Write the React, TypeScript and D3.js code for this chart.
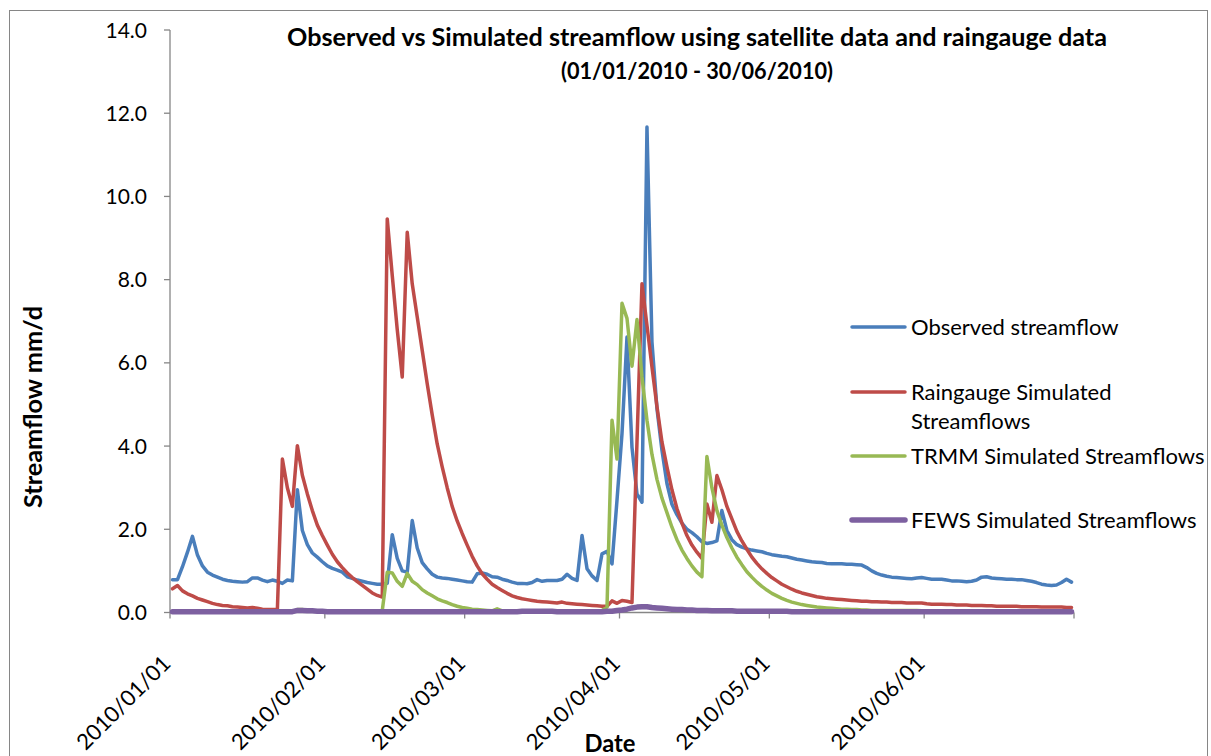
import React from "react";
import * as d3 from "d3";

const startDate = new Date(2010, 0, 1);
const endDate = new Date(2010, 6, 1);

const observed = [
  0.79, 0.79, 1.10, 1.45, 1.83, 1.38, 1.12, 0.97, 0.90, 0.85,
  0.80, 0.77, 0.75, 0.74, 0.73, 0.74, 0.83, 0.83, 0.78, 0.74,
  0.78, 0.75, 0.70, 0.78, 0.76, 2.95, 1.97, 1.63, 1.43, 1.33,
  1.22, 1.12, 1.06, 1.02, 0.97, 0.86, 0.82, 0.78, 0.75, 0.72,
  0.70, 0.68, 0.68, 0.70, 1.87, 1.30, 1.00, 0.97, 2.21, 1.55,
  1.20, 1.05, 0.92, 0.85, 0.83, 0.82, 0.80, 0.78, 0.76, 0.74,
  0.73, 0.93, 0.95, 0.92, 0.86, 0.85, 0.80, 0.77, 0.73, 0.70,
  0.70, 0.69, 0.72, 0.79, 0.75, 0.77, 0.77, 0.77, 0.80, 0.92,
  0.82, 0.77, 1.85, 1.05, 0.88, 0.77, 1.41, 1.47, 1.17, 2.70,
  4.30, 6.62, 3.97, 2.85, 2.65, 11.67, 6.50, 4.90, 3.90, 3.10,
  2.60, 2.35, 2.15, 2.00, 1.92, 1.82, 1.70, 1.66, 1.68, 1.72,
  2.45, 1.97, 1.75, 1.63, 1.57, 1.53, 1.50, 1.48, 1.46, 1.42,
  1.39, 1.37, 1.35, 1.34, 1.31, 1.28, 1.26, 1.24, 1.22, 1.21,
  1.20, 1.18, 1.17, 1.17, 1.17, 1.16, 1.16, 1.15, 1.14, 1.08,
  1.00, 0.94, 0.90, 0.87, 0.85, 0.84, 0.83, 0.82, 0.81, 0.83,
  0.84, 0.82, 0.80, 0.80, 0.80, 0.78, 0.76, 0.76, 0.75, 0.74,
  0.75, 0.78, 0.85, 0.86, 0.83, 0.82, 0.81, 0.80, 0.80, 0.79,
  0.79, 0.77, 0.75, 0.72, 0.68, 0.66, 0.65, 0.66, 0.72, 0.80,
  0.73,
];

const raingauge = [
  0.57, 0.65, 0.52, 0.45, 0.40, 0.34, 0.30, 0.26, 0.22, 0.19,
  0.17, 0.16, 0.14, 0.13, 0.12, 0.11, 0.12, 0.10, 0.08, 0.07,
  0.07, 0.07, 3.69, 3.00, 2.55, 4.01, 3.30, 2.85, 2.45, 2.10,
  1.85, 1.62, 1.40, 1.22, 1.08, 0.95, 0.84, 0.74, 0.65, 0.56,
  0.47, 0.41, 0.37, 9.46, 8.10, 6.80, 5.66, 9.14, 7.90, 7.10,
  6.30, 5.50, 4.75, 4.05, 3.50, 3.00, 2.55, 2.20, 1.90, 1.62,
  1.35, 1.12, 0.93, 0.80, 0.68, 0.60, 0.53, 0.46, 0.40, 0.36,
  0.33, 0.31, 0.29, 0.27, 0.26, 0.25, 0.24, 0.23, 0.25, 0.22,
  0.21, 0.20, 0.19, 0.18, 0.17, 0.16, 0.15, 0.15, 0.28, 0.22,
  0.29, 0.27, 0.24, 4.10, 7.90, 6.90, 5.90, 4.95, 4.10, 3.50,
  2.95, 2.50, 2.15, 1.85, 1.62, 1.45, 1.30, 2.61, 2.17, 3.29,
  2.95, 2.55, 2.25, 1.95, 1.72, 1.52, 1.33, 1.18, 1.05, 0.94,
  0.84, 0.76, 0.68, 0.62, 0.56, 0.51, 0.47, 0.44, 0.41, 0.38,
  0.36, 0.34, 0.33, 0.32, 0.31, 0.30, 0.29, 0.28, 0.27, 0.27,
  0.26, 0.26, 0.25, 0.25, 0.24, 0.24, 0.24, 0.23, 0.23, 0.23,
  0.23, 0.21, 0.20, 0.20, 0.20, 0.19, 0.19, 0.18, 0.18, 0.18,
  0.17, 0.17, 0.17, 0.16, 0.16, 0.15, 0.15, 0.15, 0.15, 0.15,
  0.14, 0.14, 0.14, 0.14, 0.13, 0.13, 0.13, 0.13, 0.13, 0.12,
  0.12,
];

const trmm = [
  0.01, 0.01, 0.01, 0.01, 0.01, 0.01, 0.01, 0.01, 0.01, 0.01,
  0.01, 0.01, 0.01, 0.01, 0.01, 0.01, 0.01, 0.01, 0.01, 0.01,
  0.01, 0.01, 0.01, 0.01, 0.01, 0.07, 0.07, 0.05, 0.04, 0.03,
  0.03, 0.02, 0.02, 0.02, 0.02, 0.02, 0.02, 0.02, 0.02, 0.02,
  0.02, 0.02, 0.05, 0.97, 0.95, 0.75, 0.63, 0.94, 0.75, 0.67,
  0.55, 0.47, 0.40, 0.33, 0.28, 0.24, 0.19, 0.15, 0.12, 0.10,
  0.08, 0.07, 0.06, 0.05, 0.04, 0.09, 0.04, 0.03, 0.03, 0.03,
  0.02, 0.02, 0.02, 0.03, 0.03, 0.03, 0.02, 0.02, 0.02, 0.02,
  0.02, 0.02, 0.02, 0.02, 0.02, 0.02, 0.05, 0.13, 4.62, 3.69,
  7.43, 7.07, 5.92, 7.04, 5.66, 4.62, 3.80, 3.20, 2.75, 2.40,
  2.05, 1.75, 1.50, 1.30, 1.12, 0.97, 0.86, 3.75, 3.00, 2.45,
  2.10, 1.80, 1.55, 1.33, 1.15, 0.98, 0.85, 0.73, 0.63, 0.54,
  0.46, 0.40, 0.34, 0.29, 0.25, 0.22, 0.19, 0.17, 0.15, 0.13,
  0.12, 0.11, 0.10, 0.09, 0.08, 0.08, 0.07, 0.07, 0.06, 0.06,
  0.05, 0.05, 0.05, 0.05, 0.05, 0.05, 0.05, 0.05, 0.05, 0.05,
  0.04, 0.04, 0.04, 0.04, 0.04, 0.04, 0.04, 0.04, 0.04, 0.04,
  0.04, 0.04, 0.04, 0.04, 0.04, 0.04, 0.04, 0.04, 0.04, 0.04,
  0.03, 0.03, 0.03, 0.03, 0.03, 0.03, 0.03, 0.03, 0.03, 0.03,
  0.03,
];

const fews = [
  0.02, 0.02, 0.02, 0.02, 0.02, 0.02, 0.02, 0.02, 0.02, 0.02,
  0.02, 0.02, 0.02, 0.02, 0.02, 0.02, 0.02, 0.02, 0.02, 0.02,
  0.02, 0.02, 0.02, 0.02, 0.02, 0.05, 0.05, 0.04, 0.04, 0.03,
  0.03, 0.02, 0.02, 0.02, 0.02, 0.02, 0.02, 0.02, 0.02, 0.02,
  0.02, 0.02, 0.02, 0.02, 0.02, 0.02, 0.02, 0.02, 0.02, 0.02,
  0.02, 0.02, 0.02, 0.02, 0.02, 0.02, 0.02, 0.02, 0.02, 0.02,
  0.02, 0.02, 0.02, 0.02, 0.02, 0.02, 0.02, 0.02, 0.02, 0.02,
  0.03, 0.03, 0.03, 0.03, 0.03, 0.03, 0.03, 0.02, 0.02, 0.02,
  0.02, 0.02, 0.02, 0.02, 0.02, 0.02, 0.02, 0.03, 0.03, 0.05,
  0.06, 0.08, 0.11, 0.13, 0.14, 0.14, 0.12, 0.11, 0.10, 0.09,
  0.08, 0.07, 0.07, 0.06, 0.06, 0.05, 0.05, 0.05, 0.04, 0.04,
  0.04, 0.04, 0.04, 0.03, 0.03, 0.03, 0.03, 0.03, 0.03, 0.03,
  0.03, 0.03, 0.03, 0.03, 0.02, 0.02, 0.02, 0.02, 0.02, 0.02,
  0.02, 0.02, 0.02, 0.02, 0.02, 0.02, 0.02, 0.02, 0.02, 0.02,
  0.02, 0.02, 0.02, 0.02, 0.02, 0.02, 0.02, 0.02, 0.02, 0.02,
  0.02, 0.02, 0.02, 0.02, 0.02, 0.02, 0.02, 0.02, 0.02, 0.02,
  0.02, 0.02, 0.02, 0.02, 0.02, 0.02, 0.02, 0.02, 0.02, 0.02,
  0.02, 0.02, 0.02, 0.02, 0.02, 0.02, 0.02, 0.02, 0.02, 0.02,
  0.02,
];

const seriesNames = [
  "Observed streamflow",
  "Raingauge Simulated Streamflows",
  "TRMM Simulated Streamflows",
  "FEWS Simulated Streamflows",
];
const seriesColors = ["#4A7EBB", "#BE4B48", "#98B954", "#7D60A0"];
const yTicks = [0, 2, 4, 6, 8, 10, 12, 14];
const xTickMonths = [0, 1, 2, 3, 4, 5];

const titleLines = [
  "Observed vs Simulated streamflow using satellite data and raingauge data",
  "(01/01/2010 - 30/06/2010)",
];

const FONT = "Lato, 'Noto Sans', sans-serif";

export default function App() {
  const W = 1211;
  const H = 756;
  const x = d3.scaleTime().domain([startDate, endDate]).range([170, 1074]);
  const y = d3.scaleLinear().domain([0, 14]).range([612.5, 30]);

  const dateOf = (i: number) => new Date(2010, 0, 1 + i, 12);
  const line = d3
    .line<number>()
    .x((_, i) => x(dateOf(i)))
    .y((v) => y(v));

  const allSeries = [observed, raingauge, trmm, fews];
  const widths = [3.5, 3.5, 3.5, 5.5];
  const fmt = d3.format(".1f");
  const xTickDates = xTickMonths.map((m) => new Date(2010, m, 1));
  const tickMarks = [...xTickDates, endDate];
  const axisColor = "#868686";

  const legendItems = [
    { lines: [seriesNames[0]], y: 327 },
    { lines: ["Raingauge Simulated", "Streamflows"], y: 392 },
    { lines: [seriesNames[2]], y: 456 },
    { lines: [seriesNames[3]], y: 520 },
  ];

  const titleSpec = [
    { size: 24, len: 820, y: 46 },
    { size: 23, len: 272, y: 79 },
  ];

  return (
    <svg
      width={W}
      height={H}
      style={{ position: "absolute", left: 0, top: 0, background: "#fff" }}
      fontFamily={FONT}
    >
      <rect x={0} y={0} width={W} height={H} fill="#fff" />
      <rect x={9.5} y={10.5} width={1198} height={800} fill="none" stroke={axisColor} strokeWidth={1} />

      {/* Title */}
      {titleLines.map((t, i) => (
        <text
          key={i}
          x={697}
          y={titleSpec[i].y}
          textAnchor="middle"
          fontWeight="bold"
          fontSize={titleSpec[i].size}
          textLength={titleSpec[i].len}
          lengthAdjust="spacingAndGlyphs"
          fill="#000"
        >
          {t}
        </text>
      ))}

      {/* Y axis */}
      <line x1={170} x2={170} y1={y(14)} y2={y(0)} stroke={axisColor} strokeWidth={1.3} />
      {yTicks.map((t) => (
        <g key={t}>
          <line x1={164} x2={170} y1={y(t)} y2={y(t)} stroke={axisColor} strokeWidth={1.3} />
          <text x={147} y={y(t)} dy="0.36em" textAnchor="end" fontSize={21} fill="#000">
            {fmt(t)}
          </text>
        </g>
      ))}

      {/* X axis */}
      <line x1={170} x2={1074} y1={y(0)} y2={y(0)} stroke={axisColor} strokeWidth={1.3} />
      {tickMarks.map((d, i) => (
        <line key={i} x1={x(d)} x2={x(d)} y1={y(0)} y2={y(0) + 6} stroke={axisColor} strokeWidth={1.3} />
      ))}
      {xTickDates.map((d, i) => (
        <text
          key={i}
          transform={`translate(${x(d) + 2},${665}) rotate(-45)`}
          textAnchor="end"
          fontSize={22}
          fill="#000"
        >
          {d3.timeFormat("%Y/%m/%d")(d)}
        </text>
      ))}

      {/* Series */}
      {allSeries.map((s, k) => (
        <path
          key={k}
          d={line(s) || ""}
          fill="none"
          stroke={seriesColors[k]}
          strokeWidth={widths[k]}
          strokeLinejoin="round"
          strokeLinecap="round"
        />
      ))}

      {/* Axis titles */}
      <text
        transform="translate(42,407) rotate(-90)"
        textAnchor="middle"
        fontWeight="bold"
        fontSize={24}
        textLength={202}
        lengthAdjust="spacingAndGlyphs"
      >
        Streamflow mm/d
      </text>
      <text x={610} y={752} textAnchor="middle" fontWeight="bold" fontSize={24} textLength={51} lengthAdjust="spacingAndGlyphs">
        Date
      </text>

      {/* Legend */}
      {legendItems.map((it, k) => (
        <g key={k}>
          <line x1={852} x2={905} y1={it.y} y2={it.y} stroke={seriesColors[k]} strokeWidth={widths[k]} strokeLinecap="round" />
          {it.lines.map((l, j) => (
            <text key={j} x={911} y={it.y + j * 29} dy="0.36em" fontSize={22} fill="#000">
              {l}
            </text>
          ))}
        </g>
      ))}
    </svg>
  );
}
